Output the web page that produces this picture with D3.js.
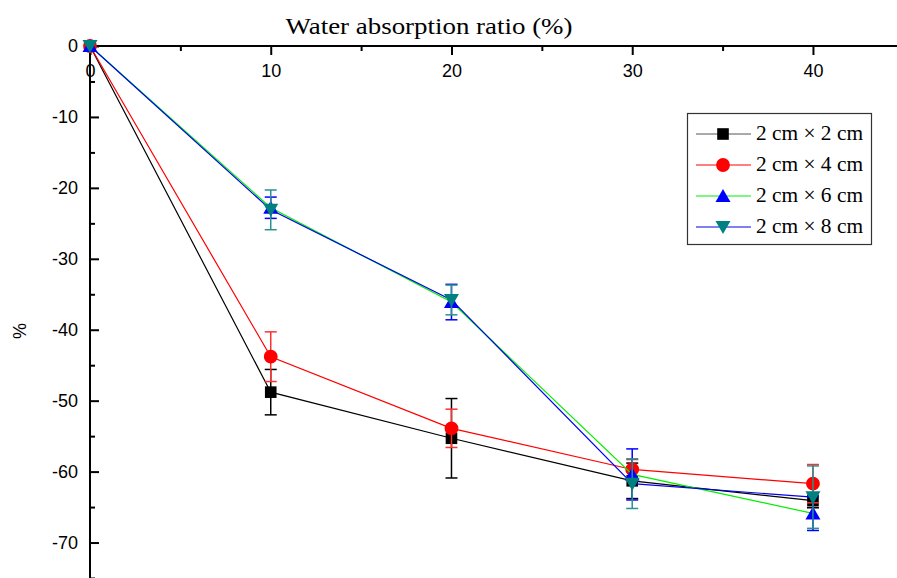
<!DOCTYPE html>
<html><head><meta charset="utf-8">
<script src="https://cdn.jsdelivr.net/npm/d3@7"></script>
<style>body{margin:0;background:#fff}svg{display:block}</style>
</head><body>
<svg id="c" width="897" height="578"></svg>
<script>
const xValues = [0, 10, 20, 30, 40];
const seriesNames = ["2 cm \u00D7 2 cm", "2 cm \u00D7 4 cm", "2 cm \u00D7 6 cm", "2 cm \u00D7 8 cm"];
const s1 = [0, -48.8, -55.3, -61.3, -64.1];
const s1Err = [0, 3.2, 5.6, 2.5, 1.0];
const s2 = [0, -43.8, -53.9, -59.7, -61.7];
const s2Err = [0, 3.5, 2.7, 1.4, 2.7];
const s3 = [0, -22.8, -36.1, -60.4, -65.9];
const s3Err = [0, 1.5, 2.5, 3.6, 2.4];
const s4 = [0, -23.1, -35.8, -61.7, -63.6];
const s4Err = [0, 2.8, 2.1, 3.5, 4.4];
const xTicks = [0, 10, 20, 30, 40];
const yTicks = [0, -10, -20, -30, -40, -50, -60, -70];
const xTitle = "Water absorption ratio (%)";
const yTitle = "%";

const series = [
  {name: seriesNames[0], v: s1, e: s1Err, line: "#000000", fill: "#000000", err: "#000000", shape: "square"},
  {name: seriesNames[1], v: s2, e: s2Err, line: "#ff0000", fill: "#ff0000", err: "#ff3030", shape: "circle"},
  {name: seriesNames[2], v: s3, e: s3Err, line: "#00ee00", fill: "#0000ff", err: "#0000ff", shape: "up"},
  {name: seriesNames[3], v: s4, e: s4Err, line: "#0000ee", fill: "#008080", err: "#2a9090", shape: "down"}
];

const svg = d3.select("#c");
const x = d3.scaleLinear().domain([0, 44.65]).range([90, 897]);
const y = d3.scaleLinear().domain([-75, 0]).range([578, 46]);
const fmt = d => String(d);

// axes
const gx = svg.append("g").attr("transform", `translate(0,${y(0)})`);
gx.call(d3.axisBottom(x).tickValues(d3.range(5, 45, 10)).tickSize(5).tickFormat(""));
gx.call(g => g.select(".domain").remove());
gx.selectAll(".tick line").attr("stroke-width", 2);
const gx2 = svg.append("g").attr("transform", `translate(0,${y(0)})`);
gx2.call(d3.axisBottom(x).tickValues(xTicks).tickSize(9).tickPadding(9).tickFormat(fmt));
gx2.select(".domain").attr("d", `M${x(0)},0H897`).attr("stroke-width", 2);
gx2.selectAll(".tick line").attr("stroke-width", 2);
gx2.selectAll("text").attr("font-family", "Liberation Sans, Arial, sans-serif").attr("font-size", 18).attr("fill", "#000");

const gy = svg.append("g").attr("transform", `translate(${x(0)},0)`);
gy.call(d3.axisRight(y).tickValues(d3.range(-5, -76, -10)).tickSize(5).tickFormat(""));
gy.call(g => g.select(".domain").remove());
gy.selectAll(".tick line").attr("stroke-width", 2);
const gy2 = svg.append("g").attr("transform", `translate(${x(0)},0)`);
gy2.call(d3.axisRight(y).tickValues(yTicks).tickSize(9).tickFormat(fmt));
gy2.select(".domain").attr("d", `M0,${y(0)}V578`).attr("stroke-width", 2);
gy2.selectAll(".tick line").attr("stroke-width", 2);
gy2.selectAll("text").attr("x", -12).attr("text-anchor", "end")
  .attr("font-family", "Liberation Sans, Arial, sans-serif").attr("font-size", 18).attr("fill", "#000");

svg.append("text").attr("x", 429).attr("y", 34).attr("text-anchor", "middle")
  .attr("font-family", "Liberation Serif, serif").attr("font-size", 23).attr("textLength", 287)
  .attr("lengthAdjust", "spacingAndGlyphs").text(xTitle);
svg.append("text").attr("transform", "translate(26,331) rotate(-90)").attr("text-anchor", "middle")
  .attr("font-family", "Liberation Sans, Arial, sans-serif").attr("font-size", 18).text(yTitle);

function symbolPath(shape) {
  if (shape === "square") return d3.symbol().type(d3.symbolSquare).size(135)();
  if (shape === "circle") return d3.symbol().type(d3.symbolCircle).size(150)();
  if (shape === "up") return "M0,-7L7.5,6L-7.5,6Z";
  return "M0,7L7.5,-6L-7.5,-6Z";
}

const line = d3.line().x(d => x(d[0])).y(d => y(d[1]));
series.forEach(s => {
  const g = svg.append("g");
  const pts = xValues.map((xv, i) => [xv, s.v[i], s.e[i]]);
  g.append("path").datum(pts).attr("d", line).attr("fill", "none").attr("stroke", s.line).attr("stroke-width", 1.2);
  pts.filter(p => p[2] > 0).forEach(p => {
    const cx = x(p[0]);
    g.append("line").attr("x1", cx).attr("x2", cx).attr("y1", y(p[1] + p[2])).attr("y2", y(p[1] - p[2])).attr("stroke", s.err).attr("stroke-width", 1.5);
    [p[1] + p[2], p[1] - p[2]].forEach(v => {
      g.append("line").attr("x1", cx - 6).attr("x2", cx + 6).attr("y1", y(v)).attr("y2", y(v)).attr("stroke", s.err).attr("stroke-width", 1.5);
    });
  });
  g.selectAll("path.m").data(pts).enter().append("path").attr("class", "m")
    .attr("transform", d => `translate(${x(d[0])},${y(d[1])})`)
    .attr("d", symbolPath(s.shape)).attr("fill", s.fill);
});

// legend
const lg = svg.append("g");
lg.append("rect").attr("x", 687.5).attr("y", 113.5).attr("width", 184).attr("height", 131)
  .attr("fill", "#fff").attr("stroke", "#333").attr("stroke-width", 1.2);
series.forEach((s, i) => {
  const yy = 134 + i * 31;
  lg.append("line").attr("x1", 696).attr("x2", 751).attr("y1", yy).attr("y2", yy).attr("stroke", s.line === "#000000" ? "#555" : s.line).attr("stroke-width", 1);
  lg.append("path").attr("transform", `translate(723,${yy})`).attr("d", symbolPath(s.shape)).attr("fill", s.fill);
  lg.append("text").attr("x", 756).attr("y", yy + 6).attr("font-family", "Liberation Serif, serif")
    .attr("font-size", 21).attr("textLength", 107).attr("lengthAdjust", "spacingAndGlyphs").text(s.name);
});
</script>
</body></html>
